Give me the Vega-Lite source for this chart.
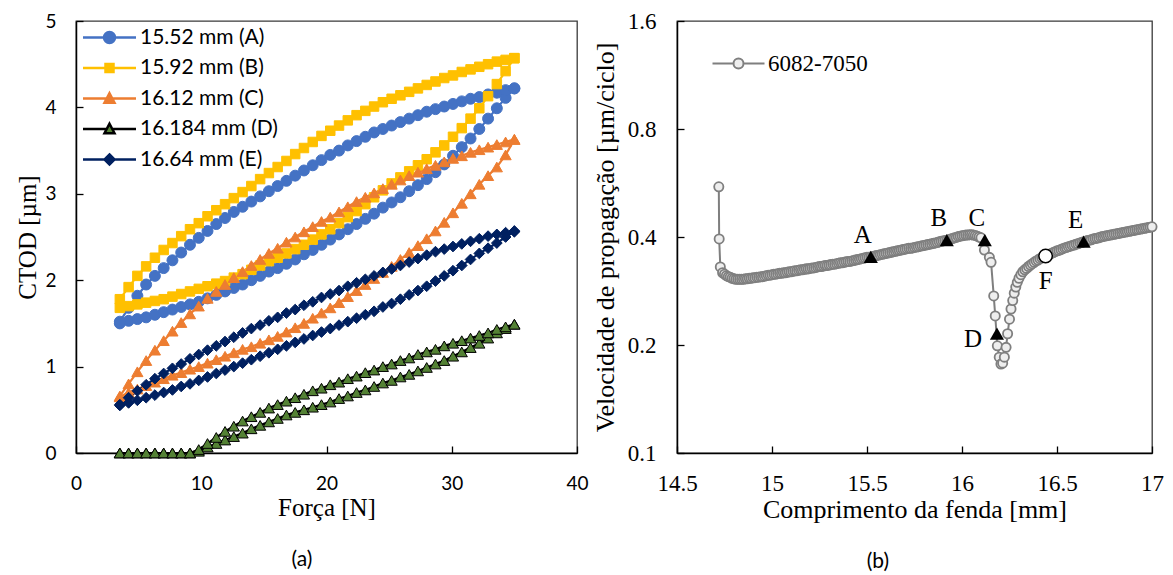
{
  "$schema": "https://vega.github.io/schema/vega-lite/v6.json",
  "background": "white",
  "padding": {"left": 15, "top": 9, "right": 5, "bottom": 0},
  "spacing": 2,
  "config": {
    "view": {"stroke": "#3a3a3a", "strokeWidth": 1.3},
    "axis": {"grid": false, "domainColor": "#000", "domainWidth": 1.5, "tickColor": "#000", "tickWidth": 1.3, "tickSize": -7, "labelColor": "#000", "titleColor": "#000", "titleFontWeight": "normal", "labelFlush": false},
    "legend": {"padding": 0, "titlePadding": 0, "labelFont": "Liberation Serif", "labelColor": "#000"}
  },
  "resolve": {
    "scale": {"color": "independent", "stroke": "independent", "shape": "independent", "size": "independent"},
    "legend": {"color": "independent", "stroke": "independent", "shape": "independent", "size": "independent"}
  },
  "datasets": {
    "ctod": [
      {"s":"A","b":"L","f":3.5,"c":1.50},{"s":"A","b":"L","f":4.2,"c":1.53},{"s":"A","b":"L","f":4.9,"c":1.55},{"s":"A","b":"L","f":5.6,"c":1.57},{"s":"A","b":"L","f":6.3,"c":1.60},{"s":"A","b":"L","f":7.0,"c":1.63},{"s":"A","b":"L","f":7.7,"c":1.66},{"s":"A","b":"L","f":8.4,"c":1.69},{"s":"A","b":"L","f":9.1,"c":1.72},{"s":"A","b":"L","f":9.8,"c":1.75},{"s":"A","b":"L","f":10.5,"c":1.79},{"s":"A","b":"L","f":11.2,"c":1.83},{"s":"A","b":"L","f":11.9,"c":1.87},{"s":"A","b":"L","f":12.6,"c":1.91},{"s":"A","b":"L","f":13.3,"c":1.95},{"s":"A","b":"L","f":14.0,"c":2.00},{"s":"A","b":"L","f":14.7,"c":2.05},{"s":"A","b":"L","f":15.4,"c":2.10},{"s":"A","b":"L","f":16.1,"c":2.14},{"s":"A","b":"L","f":16.8,"c":2.19},{"s":"A","b":"L","f":17.5,"c":2.24},{"s":"A","b":"L","f":18.2,"c":2.30},{"s":"A","b":"L","f":18.9,"c":2.35},{"s":"A","b":"L","f":19.6,"c":2.41},{"s":"A","b":"L","f":20.3,"c":2.47},{"s":"A","b":"L","f":21.0,"c":2.53},{"s":"A","b":"L","f":21.7,"c":2.59},{"s":"A","b":"L","f":22.4,"c":2.65},{"s":"A","b":"L","f":23.1,"c":2.71},{"s":"A","b":"L","f":23.8,"c":2.77},{"s":"A","b":"L","f":24.5,"c":2.84},{"s":"A","b":"L","f":25.2,"c":2.90},{"s":"A","b":"L","f":25.9,"c":2.96},{"s":"A","b":"L","f":26.6,"c":3.03},{"s":"A","b":"L","f":27.3,"c":3.10},{"s":"A","b":"L","f":28.0,"c":3.17},{"s":"A","b":"L","f":28.7,"c":3.25},{"s":"A","b":"L","f":29.4,"c":3.34},{"s":"A","b":"L","f":30.1,"c":3.44},{"s":"A","b":"L","f":30.8,"c":3.54},{"s":"A","b":"L","f":31.5,"c":3.64},{"s":"A","b":"L","f":32.2,"c":3.75},{"s":"A","b":"L","f":32.9,"c":3.87},{"s":"A","b":"L","f":33.6,"c":3.99},{"s":"A","b":"L","f":34.3,"c":4.11},{"s":"A","b":"L","f":35.0,"c":4.22},
      {"s":"A","b":"U","f":3.5,"c":1.52},{"s":"A","b":"U","f":4.2,"c":1.68},{"s":"A","b":"U","f":4.9,"c":1.82},{"s":"A","b":"U","f":5.6,"c":1.95},{"s":"A","b":"U","f":6.3,"c":2.05},{"s":"A","b":"U","f":7.0,"c":2.14},{"s":"A","b":"U","f":7.7,"c":2.23},{"s":"A","b":"U","f":8.4,"c":2.32},{"s":"A","b":"U","f":9.1,"c":2.41},{"s":"A","b":"U","f":9.8,"c":2.49},{"s":"A","b":"U","f":10.5,"c":2.57},{"s":"A","b":"U","f":11.2,"c":2.65},{"s":"A","b":"U","f":11.9,"c":2.72},{"s":"A","b":"U","f":12.6,"c":2.79},{"s":"A","b":"U","f":13.3,"c":2.85},{"s":"A","b":"U","f":14.0,"c":2.91},{"s":"A","b":"U","f":14.7,"c":2.97},{"s":"A","b":"U","f":15.4,"c":3.03},{"s":"A","b":"U","f":16.1,"c":3.09},{"s":"A","b":"U","f":16.8,"c":3.15},{"s":"A","b":"U","f":17.5,"c":3.21},{"s":"A","b":"U","f":18.2,"c":3.27},{"s":"A","b":"U","f":18.9,"c":3.33},{"s":"A","b":"U","f":19.6,"c":3.39},{"s":"A","b":"U","f":20.3,"c":3.45},{"s":"A","b":"U","f":21.0,"c":3.50},{"s":"A","b":"U","f":21.7,"c":3.56},{"s":"A","b":"U","f":22.4,"c":3.61},{"s":"A","b":"U","f":23.1,"c":3.66},{"s":"A","b":"U","f":23.8,"c":3.71},{"s":"A","b":"U","f":24.5,"c":3.75},{"s":"A","b":"U","f":25.2,"c":3.79},{"s":"A","b":"U","f":25.9,"c":3.83},{"s":"A","b":"U","f":26.6,"c":3.87},{"s":"A","b":"U","f":27.3,"c":3.91},{"s":"A","b":"U","f":28.0,"c":3.95},{"s":"A","b":"U","f":28.7,"c":3.98},{"s":"A","b":"U","f":29.4,"c":4.01},{"s":"A","b":"U","f":30.1,"c":4.04},{"s":"A","b":"U","f":30.8,"c":4.07},{"s":"A","b":"U","f":31.5,"c":4.10},{"s":"A","b":"U","f":32.2,"c":4.12},{"s":"A","b":"U","f":32.9,"c":4.15},{"s":"A","b":"U","f":33.6,"c":4.17},{"s":"A","b":"U","f":34.3,"c":4.20},{"s":"A","b":"U","f":35.0,"c":4.22},
      {"s":"B","b":"L","f":3.5,"c":1.68},{"s":"B","b":"L","f":4.2,"c":1.70},{"s":"B","b":"L","f":4.9,"c":1.72},{"s":"B","b":"L","f":5.6,"c":1.74},{"s":"B","b":"L","f":6.3,"c":1.76},{"s":"B","b":"L","f":7.0,"c":1.78},{"s":"B","b":"L","f":7.7,"c":1.81},{"s":"B","b":"L","f":8.4,"c":1.84},{"s":"B","b":"L","f":9.1,"c":1.87},{"s":"B","b":"L","f":9.8,"c":1.90},{"s":"B","b":"L","f":10.5,"c":1.93},{"s":"B","b":"L","f":11.2,"c":1.96},{"s":"B","b":"L","f":11.9,"c":1.99},{"s":"B","b":"L","f":12.6,"c":2.03},{"s":"B","b":"L","f":13.3,"c":2.07},{"s":"B","b":"L","f":14.0,"c":2.12},{"s":"B","b":"L","f":14.7,"c":2.17},{"s":"B","b":"L","f":15.4,"c":2.22},{"s":"B","b":"L","f":16.1,"c":2.26},{"s":"B","b":"L","f":16.8,"c":2.31},{"s":"B","b":"L","f":17.5,"c":2.36},{"s":"B","b":"L","f":18.2,"c":2.41},{"s":"B","b":"L","f":18.9,"c":2.47},{"s":"B","b":"L","f":19.6,"c":2.53},{"s":"B","b":"L","f":20.3,"c":2.59},{"s":"B","b":"L","f":21.0,"c":2.66},{"s":"B","b":"L","f":21.7,"c":2.73},{"s":"B","b":"L","f":22.4,"c":2.80},{"s":"B","b":"L","f":23.1,"c":2.88},{"s":"B","b":"L","f":23.8,"c":2.96},{"s":"B","b":"L","f":24.5,"c":3.04},{"s":"B","b":"L","f":25.2,"c":3.12},{"s":"B","b":"L","f":25.9,"c":3.19},{"s":"B","b":"L","f":26.6,"c":3.26},{"s":"B","b":"L","f":27.3,"c":3.33},{"s":"B","b":"L","f":28.0,"c":3.40},{"s":"B","b":"L","f":28.7,"c":3.48},{"s":"B","b":"L","f":29.4,"c":3.56},{"s":"B","b":"L","f":30.1,"c":3.66},{"s":"B","b":"L","f":30.8,"c":3.76},{"s":"B","b":"L","f":31.5,"c":3.87},{"s":"B","b":"L","f":32.2,"c":3.99},{"s":"B","b":"L","f":32.9,"c":4.13},{"s":"B","b":"L","f":33.6,"c":4.27},{"s":"B","b":"L","f":34.3,"c":4.42},{"s":"B","b":"L","f":35.0,"c":4.57},
      {"s":"B","b":"U","f":3.5,"c":1.78},{"s":"B","b":"U","f":4.2,"c":1.92},{"s":"B","b":"U","f":4.9,"c":2.05},{"s":"B","b":"U","f":5.6,"c":2.16},{"s":"B","b":"U","f":6.3,"c":2.26},{"s":"B","b":"U","f":7.0,"c":2.35},{"s":"B","b":"U","f":7.7,"c":2.43},{"s":"B","b":"U","f":8.4,"c":2.51},{"s":"B","b":"U","f":9.1,"c":2.59},{"s":"B","b":"U","f":9.8,"c":2.66},{"s":"B","b":"U","f":10.5,"c":2.74},{"s":"B","b":"U","f":11.2,"c":2.81},{"s":"B","b":"U","f":11.9,"c":2.88},{"s":"B","b":"U","f":12.6,"c":2.95},{"s":"B","b":"U","f":13.3,"c":3.02},{"s":"B","b":"U","f":14.0,"c":3.09},{"s":"B","b":"U","f":14.7,"c":3.17},{"s":"B","b":"U","f":15.4,"c":3.24},{"s":"B","b":"U","f":16.1,"c":3.31},{"s":"B","b":"U","f":16.8,"c":3.38},{"s":"B","b":"U","f":17.5,"c":3.46},{"s":"B","b":"U","f":18.2,"c":3.53},{"s":"B","b":"U","f":18.9,"c":3.60},{"s":"B","b":"U","f":19.6,"c":3.67},{"s":"B","b":"U","f":20.3,"c":3.73},{"s":"B","b":"U","f":21.0,"c":3.79},{"s":"B","b":"U","f":21.7,"c":3.85},{"s":"B","b":"U","f":22.4,"c":3.91},{"s":"B","b":"U","f":23.1,"c":3.96},{"s":"B","b":"U","f":23.8,"c":4.01},{"s":"B","b":"U","f":24.5,"c":4.06},{"s":"B","b":"U","f":25.2,"c":4.10},{"s":"B","b":"U","f":25.9,"c":4.14},{"s":"B","b":"U","f":26.6,"c":4.18},{"s":"B","b":"U","f":27.3,"c":4.22},{"s":"B","b":"U","f":28.0,"c":4.26},{"s":"B","b":"U","f":28.7,"c":4.30},{"s":"B","b":"U","f":29.4,"c":4.34},{"s":"B","b":"U","f":30.1,"c":4.37},{"s":"B","b":"U","f":30.8,"c":4.41},{"s":"B","b":"U","f":31.5,"c":4.44},{"s":"B","b":"U","f":32.2,"c":4.47},{"s":"B","b":"U","f":32.9,"c":4.50},{"s":"B","b":"U","f":33.6,"c":4.53},{"s":"B","b":"U","f":34.3,"c":4.55},{"s":"B","b":"U","f":35.0,"c":4.57},
      {"s":"C","b":"L","f":3.5,"c":0.65},{"s":"C","b":"L","f":4.2,"c":0.70},{"s":"C","b":"L","f":4.9,"c":0.74},{"s":"C","b":"L","f":5.6,"c":0.78},{"s":"C","b":"L","f":6.3,"c":0.82},{"s":"C","b":"L","f":7.0,"c":0.86},{"s":"C","b":"L","f":7.7,"c":0.90},{"s":"C","b":"L","f":8.4,"c":0.93},{"s":"C","b":"L","f":9.1,"c":0.97},{"s":"C","b":"L","f":9.8,"c":1.00},{"s":"C","b":"L","f":10.5,"c":1.04},{"s":"C","b":"L","f":11.2,"c":1.08},{"s":"C","b":"L","f":11.9,"c":1.12},{"s":"C","b":"L","f":12.6,"c":1.16},{"s":"C","b":"L","f":13.3,"c":1.20},{"s":"C","b":"L","f":14.0,"c":1.23},{"s":"C","b":"L","f":14.7,"c":1.27},{"s":"C","b":"L","f":15.4,"c":1.31},{"s":"C","b":"L","f":16.1,"c":1.35},{"s":"C","b":"L","f":16.8,"c":1.40},{"s":"C","b":"L","f":17.5,"c":1.45},{"s":"C","b":"L","f":18.2,"c":1.50},{"s":"C","b":"L","f":18.9,"c":1.56},{"s":"C","b":"L","f":19.6,"c":1.62},{"s":"C","b":"L","f":20.3,"c":1.68},{"s":"C","b":"L","f":21.0,"c":1.74},{"s":"C","b":"L","f":21.7,"c":1.81},{"s":"C","b":"L","f":22.4,"c":1.88},{"s":"C","b":"L","f":23.1,"c":1.95},{"s":"C","b":"L","f":23.8,"c":2.02},{"s":"C","b":"L","f":24.5,"c":2.09},{"s":"C","b":"L","f":25.2,"c":2.16},{"s":"C","b":"L","f":25.9,"c":2.24},{"s":"C","b":"L","f":26.6,"c":2.32},{"s":"C","b":"L","f":27.3,"c":2.40},{"s":"C","b":"L","f":28.0,"c":2.48},{"s":"C","b":"L","f":28.7,"c":2.57},{"s":"C","b":"L","f":29.4,"c":2.67},{"s":"C","b":"L","f":30.1,"c":2.78},{"s":"C","b":"L","f":30.8,"c":2.89},{"s":"C","b":"L","f":31.5,"c":3.00},{"s":"C","b":"L","f":32.2,"c":3.11},{"s":"C","b":"L","f":32.9,"c":3.21},{"s":"C","b":"L","f":33.6,"c":3.31},{"s":"C","b":"L","f":34.3,"c":3.45},{"s":"C","b":"L","f":35.0,"c":3.63},
      {"s":"C","b":"U","f":3.5,"c":0.66},{"s":"C","b":"U","f":4.2,"c":0.80},{"s":"C","b":"U","f":4.9,"c":0.94},{"s":"C","b":"U","f":5.6,"c":1.07},{"s":"C","b":"U","f":6.3,"c":1.19},{"s":"C","b":"U","f":7.0,"c":1.30},{"s":"C","b":"U","f":7.7,"c":1.41},{"s":"C","b":"U","f":8.4,"c":1.51},{"s":"C","b":"U","f":9.1,"c":1.61},{"s":"C","b":"U","f":9.8,"c":1.70},{"s":"C","b":"U","f":10.5,"c":1.79},{"s":"C","b":"U","f":11.2,"c":1.87},{"s":"C","b":"U","f":11.9,"c":1.95},{"s":"C","b":"U","f":12.6,"c":2.03},{"s":"C","b":"U","f":13.3,"c":2.10},{"s":"C","b":"U","f":14.0,"c":2.17},{"s":"C","b":"U","f":14.7,"c":2.24},{"s":"C","b":"U","f":15.4,"c":2.31},{"s":"C","b":"U","f":16.1,"c":2.37},{"s":"C","b":"U","f":16.8,"c":2.44},{"s":"C","b":"U","f":17.5,"c":2.50},{"s":"C","b":"U","f":18.2,"c":2.56},{"s":"C","b":"U","f":18.9,"c":2.62},{"s":"C","b":"U","f":19.6,"c":2.68},{"s":"C","b":"U","f":20.3,"c":2.73},{"s":"C","b":"U","f":21.0,"c":2.79},{"s":"C","b":"U","f":21.7,"c":2.85},{"s":"C","b":"U","f":22.4,"c":2.91},{"s":"C","b":"U","f":23.1,"c":2.96},{"s":"C","b":"U","f":23.8,"c":3.01},{"s":"C","b":"U","f":24.5,"c":3.06},{"s":"C","b":"U","f":25.2,"c":3.11},{"s":"C","b":"U","f":25.9,"c":3.16},{"s":"C","b":"U","f":26.6,"c":3.21},{"s":"C","b":"U","f":27.3,"c":3.25},{"s":"C","b":"U","f":28.0,"c":3.29},{"s":"C","b":"U","f":28.7,"c":3.33},{"s":"C","b":"U","f":29.4,"c":3.37},{"s":"C","b":"U","f":30.1,"c":3.41},{"s":"C","b":"U","f":30.8,"c":3.44},{"s":"C","b":"U","f":31.5,"c":3.48},{"s":"C","b":"U","f":32.2,"c":3.51},{"s":"C","b":"U","f":32.9,"c":3.54},{"s":"C","b":"U","f":33.6,"c":3.57},{"s":"C","b":"U","f":34.3,"c":3.60},{"s":"C","b":"U","f":35.0,"c":3.63},
      {"s":"D","b":"L","f":3.5,"c":0},{"s":"D","b":"L","f":4.2,"c":0},{"s":"D","b":"L","f":4.9,"c":0},{"s":"D","b":"L","f":5.6,"c":0},{"s":"D","b":"L","f":6.3,"c":0},{"s":"D","b":"L","f":7.0,"c":0},{"s":"D","b":"L","f":7.7,"c":0},{"s":"D","b":"L","f":8.4,"c":0},{"s":"D","b":"L","f":9.1,"c":0},{"s":"D","b":"L","f":9.8,"c":0.02},{"s":"D","b":"L","f":10.5,"c":0.07},{"s":"D","b":"L","f":11.2,"c":0.11},{"s":"D","b":"L","f":11.9,"c":0.15},{"s":"D","b":"L","f":12.6,"c":0.19},{"s":"D","b":"L","f":13.3,"c":0.23},{"s":"D","b":"L","f":14.0,"c":0.28},{"s":"D","b":"L","f":14.7,"c":0.32},{"s":"D","b":"L","f":15.4,"c":0.36},{"s":"D","b":"L","f":16.1,"c":0.40},{"s":"D","b":"L","f":16.8,"c":0.44},{"s":"D","b":"L","f":17.5,"c":0.47},{"s":"D","b":"L","f":18.2,"c":0.50},{"s":"D","b":"L","f":18.9,"c":0.53},{"s":"D","b":"L","f":19.6,"c":0.56},{"s":"D","b":"L","f":20.3,"c":0.59},{"s":"D","b":"L","f":21.0,"c":0.63},{"s":"D","b":"L","f":21.7,"c":0.66},{"s":"D","b":"L","f":22.4,"c":0.70},{"s":"D","b":"L","f":23.1,"c":0.73},{"s":"D","b":"L","f":23.8,"c":0.77},{"s":"D","b":"L","f":24.5,"c":0.81},{"s":"D","b":"L","f":25.2,"c":0.84},{"s":"D","b":"L","f":25.9,"c":0.88},{"s":"D","b":"L","f":26.6,"c":0.91},{"s":"D","b":"L","f":27.3,"c":0.95},{"s":"D","b":"L","f":28.0,"c":0.99},{"s":"D","b":"L","f":28.7,"c":1.03},{"s":"D","b":"L","f":29.4,"c":1.07},{"s":"D","b":"L","f":30.1,"c":1.12},{"s":"D","b":"L","f":30.8,"c":1.17},{"s":"D","b":"L","f":31.5,"c":1.22},{"s":"D","b":"L","f":32.2,"c":1.27},{"s":"D","b":"L","f":32.9,"c":1.33},{"s":"D","b":"L","f":33.6,"c":1.39},{"s":"D","b":"L","f":34.3,"c":1.44},{"s":"D","b":"L","f":35.0,"c":1.49},
      {"s":"D","b":"U","f":3.5,"c":0},{"s":"D","b":"U","f":4.2,"c":0},{"s":"D","b":"U","f":4.9,"c":0},{"s":"D","b":"U","f":5.6,"c":0},{"s":"D","b":"U","f":6.3,"c":0},{"s":"D","b":"U","f":7.0,"c":0},{"s":"D","b":"U","f":7.7,"c":0},{"s":"D","b":"U","f":8.4,"c":0},{"s":"D","b":"U","f":9.1,"c":0},{"s":"D","b":"U","f":9.8,"c":0.04},{"s":"D","b":"U","f":10.5,"c":0.11},{"s":"D","b":"U","f":11.2,"c":0.18},{"s":"D","b":"U","f":11.9,"c":0.25},{"s":"D","b":"U","f":12.6,"c":0.31},{"s":"D","b":"U","f":13.3,"c":0.37},{"s":"D","b":"U","f":14.0,"c":0.42},{"s":"D","b":"U","f":14.7,"c":0.47},{"s":"D","b":"U","f":15.4,"c":0.52},{"s":"D","b":"U","f":16.1,"c":0.56},{"s":"D","b":"U","f":16.8,"c":0.60},{"s":"D","b":"U","f":17.5,"c":0.64},{"s":"D","b":"U","f":18.2,"c":0.68},{"s":"D","b":"U","f":18.9,"c":0.72},{"s":"D","b":"U","f":19.6,"c":0.75},{"s":"D","b":"U","f":20.3,"c":0.79},{"s":"D","b":"U","f":21.0,"c":0.82},{"s":"D","b":"U","f":21.7,"c":0.86},{"s":"D","b":"U","f":22.4,"c":0.89},{"s":"D","b":"U","f":23.1,"c":0.93},{"s":"D","b":"U","f":23.8,"c":0.96},{"s":"D","b":"U","f":24.5,"c":1.00},{"s":"D","b":"U","f":25.2,"c":1.03},{"s":"D","b":"U","f":25.9,"c":1.07},{"s":"D","b":"U","f":26.6,"c":1.10},{"s":"D","b":"U","f":27.3,"c":1.14},{"s":"D","b":"U","f":28.0,"c":1.17},{"s":"D","b":"U","f":28.7,"c":1.20},{"s":"D","b":"U","f":29.4,"c":1.24},{"s":"D","b":"U","f":30.1,"c":1.27},{"s":"D","b":"U","f":30.8,"c":1.30},{"s":"D","b":"U","f":31.5,"c":1.33},{"s":"D","b":"U","f":32.2,"c":1.36},{"s":"D","b":"U","f":32.9,"c":1.39},{"s":"D","b":"U","f":33.6,"c":1.43},{"s":"D","b":"U","f":34.3,"c":1.46},{"s":"D","b":"U","f":35.0,"c":1.49},
      {"s":"E","b":"L","f":3.5,"c":0.55},{"s":"E","b":"L","f":4.2,"c":0.58},{"s":"E","b":"L","f":4.9,"c":0.61},{"s":"E","b":"L","f":5.6,"c":0.64},{"s":"E","b":"L","f":6.3,"c":0.67},{"s":"E","b":"L","f":7.0,"c":0.70},{"s":"E","b":"L","f":7.7,"c":0.73},{"s":"E","b":"L","f":8.4,"c":0.77},{"s":"E","b":"L","f":9.1,"c":0.80},{"s":"E","b":"L","f":9.8,"c":0.84},{"s":"E","b":"L","f":10.5,"c":0.88},{"s":"E","b":"L","f":11.2,"c":0.92},{"s":"E","b":"L","f":11.9,"c":0.96},{"s":"E","b":"L","f":12.6,"c":1.00},{"s":"E","b":"L","f":13.3,"c":1.04},{"s":"E","b":"L","f":14.0,"c":1.08},{"s":"E","b":"L","f":14.7,"c":1.12},{"s":"E","b":"L","f":15.4,"c":1.16},{"s":"E","b":"L","f":16.1,"c":1.20},{"s":"E","b":"L","f":16.8,"c":1.24},{"s":"E","b":"L","f":17.5,"c":1.28},{"s":"E","b":"L","f":18.2,"c":1.32},{"s":"E","b":"L","f":18.9,"c":1.36},{"s":"E","b":"L","f":19.6,"c":1.40},{"s":"E","b":"L","f":20.3,"c":1.44},{"s":"E","b":"L","f":21.0,"c":1.48},{"s":"E","b":"L","f":21.7,"c":1.52},{"s":"E","b":"L","f":22.4,"c":1.56},{"s":"E","b":"L","f":23.1,"c":1.60},{"s":"E","b":"L","f":23.8,"c":1.64},{"s":"E","b":"L","f":24.5,"c":1.69},{"s":"E","b":"L","f":25.2,"c":1.73},{"s":"E","b":"L","f":25.9,"c":1.78},{"s":"E","b":"L","f":26.6,"c":1.83},{"s":"E","b":"L","f":27.3,"c":1.88},{"s":"E","b":"L","f":28.0,"c":1.93},{"s":"E","b":"L","f":28.7,"c":1.99},{"s":"E","b":"L","f":29.4,"c":2.05},{"s":"E","b":"L","f":30.1,"c":2.11},{"s":"E","b":"L","f":30.8,"c":2.17},{"s":"E","b":"L","f":31.5,"c":2.24},{"s":"E","b":"L","f":32.2,"c":2.31},{"s":"E","b":"L","f":32.9,"c":2.37},{"s":"E","b":"L","f":33.6,"c":2.43},{"s":"E","b":"L","f":34.3,"c":2.50},{"s":"E","b":"L","f":35.0,"c":2.56},
      {"s":"E","b":"U","f":3.5,"c":0.56},{"s":"E","b":"U","f":4.2,"c":0.64},{"s":"E","b":"U","f":4.9,"c":0.72},{"s":"E","b":"U","f":5.6,"c":0.79},{"s":"E","b":"U","f":6.3,"c":0.86},{"s":"E","b":"U","f":7.0,"c":0.92},{"s":"E","b":"U","f":7.7,"c":0.98},{"s":"E","b":"U","f":8.4,"c":1.03},{"s":"E","b":"U","f":9.1,"c":1.09},{"s":"E","b":"U","f":9.8,"c":1.14},{"s":"E","b":"U","f":10.5,"c":1.19},{"s":"E","b":"U","f":11.2,"c":1.24},{"s":"E","b":"U","f":11.9,"c":1.29},{"s":"E","b":"U","f":12.6,"c":1.34},{"s":"E","b":"U","f":13.3,"c":1.39},{"s":"E","b":"U","f":14.0,"c":1.44},{"s":"E","b":"U","f":14.7,"c":1.48},{"s":"E","b":"U","f":15.4,"c":1.53},{"s":"E","b":"U","f":16.1,"c":1.57},{"s":"E","b":"U","f":16.8,"c":1.62},{"s":"E","b":"U","f":17.5,"c":1.66},{"s":"E","b":"U","f":18.2,"c":1.71},{"s":"E","b":"U","f":18.9,"c":1.75},{"s":"E","b":"U","f":19.6,"c":1.80},{"s":"E","b":"U","f":20.3,"c":1.84},{"s":"E","b":"U","f":21.0,"c":1.88},{"s":"E","b":"U","f":21.7,"c":1.93},{"s":"E","b":"U","f":22.4,"c":1.97},{"s":"E","b":"U","f":23.1,"c":2.01},{"s":"E","b":"U","f":23.8,"c":2.05},{"s":"E","b":"U","f":24.5,"c":2.09},{"s":"E","b":"U","f":25.2,"c":2.13},{"s":"E","b":"U","f":25.9,"c":2.17},{"s":"E","b":"U","f":26.6,"c":2.21},{"s":"E","b":"U","f":27.3,"c":2.25},{"s":"E","b":"U","f":28.0,"c":2.29},{"s":"E","b":"U","f":28.7,"c":2.33},{"s":"E","b":"U","f":29.4,"c":2.36},{"s":"E","b":"U","f":30.1,"c":2.39},{"s":"E","b":"U","f":30.8,"c":2.42},{"s":"E","b":"U","f":31.5,"c":2.45},{"s":"E","b":"U","f":32.2,"c":2.48},{"s":"E","b":"U","f":32.9,"c":2.51},{"s":"E","b":"U","f":33.6,"c":2.53},{"s":"E","b":"U","f":34.3,"c":2.55},{"s":"E","b":"U","f":35.0,"c":2.57}
    ],
    "rate": [
      {"x":14.72,"v":0.552},{"x":14.722,"v":0.395},{"x":14.728,"v":0.330},
      {"x":14.74,"v":0.318},{"x":14.75,"v":0.315},{"x":14.76,"v":0.312},{"x":14.77,"v":0.310},{"x":14.78,"v":0.309},{"x":14.79,"v":0.307},{"x":14.80,"v":0.306},
      {"x":14.81,"v":0.305},{"x":14.82,"v":0.305},{"x":14.83,"v":0.305},{"x":14.84,"v":0.305},{"x":14.85,"v":0.305},{"x":14.86,"v":0.306},{"x":14.87,"v":0.306},{"x":14.88,"v":0.307},{"x":14.89,"v":0.307},{"x":14.90,"v":0.308},
      {"x":14.91,"v":0.308},{"x":14.92,"v":0.309},{"x":14.93,"v":0.309},{"x":14.94,"v":0.310},{"x":14.95,"v":0.310},{"x":14.96,"v":0.311},{"x":14.97,"v":0.312},{"x":14.98,"v":0.313},{"x":14.99,"v":0.313},{"x":15.00,"v":0.314},
      {"x":15.01,"v":0.315},{"x":15.02,"v":0.315},{"x":15.03,"v":0.316},{"x":15.04,"v":0.317},{"x":15.05,"v":0.317},{"x":15.06,"v":0.318},{"x":15.07,"v":0.318},{"x":15.08,"v":0.319},{"x":15.09,"v":0.320},{"x":15.10,"v":0.320},
      {"x":15.11,"v":0.321},{"x":15.12,"v":0.322},{"x":15.13,"v":0.322},{"x":15.14,"v":0.323},{"x":15.15,"v":0.324},{"x":15.16,"v":0.324},{"x":15.17,"v":0.325},{"x":15.18,"v":0.326},{"x":15.19,"v":0.326},{"x":15.20,"v":0.327},
      {"x":15.21,"v":0.328},{"x":15.22,"v":0.328},{"x":15.23,"v":0.329},{"x":15.24,"v":0.330},{"x":15.25,"v":0.331},{"x":15.26,"v":0.331},{"x":15.27,"v":0.332},{"x":15.28,"v":0.333},{"x":15.29,"v":0.333},{"x":15.30,"v":0.334},
      {"x":15.31,"v":0.335},{"x":15.32,"v":0.336},{"x":15.33,"v":0.336},{"x":15.34,"v":0.337},{"x":15.35,"v":0.338},{"x":15.36,"v":0.339},{"x":15.37,"v":0.339},{"x":15.38,"v":0.340},{"x":15.39,"v":0.341},{"x":15.40,"v":0.342},
      {"x":15.41,"v":0.342},{"x":15.42,"v":0.343},{"x":15.43,"v":0.344},{"x":15.44,"v":0.345},{"x":15.45,"v":0.346},{"x":15.46,"v":0.347},{"x":15.47,"v":0.348},{"x":15.48,"v":0.349},{"x":15.49,"v":0.350},{"x":15.50,"v":0.351},
      {"x":15.51,"v":0.351},{"x":15.52,"v":0.352},{"x":15.53,"v":0.353},{"x":15.54,"v":0.354},{"x":15.55,"v":0.355},{"x":15.56,"v":0.356},{"x":15.57,"v":0.357},{"x":15.58,"v":0.358},{"x":15.59,"v":0.359},{"x":15.60,"v":0.360},
      {"x":15.61,"v":0.361},{"x":15.62,"v":0.362},{"x":15.63,"v":0.363},{"x":15.64,"v":0.364},{"x":15.65,"v":0.365},{"x":15.66,"v":0.366},{"x":15.67,"v":0.367},{"x":15.68,"v":0.368},{"x":15.69,"v":0.369},{"x":15.70,"v":0.370},
      {"x":15.71,"v":0.371},{"x":15.72,"v":0.372},{"x":15.73,"v":0.372},{"x":15.74,"v":0.373},{"x":15.75,"v":0.374},{"x":15.76,"v":0.375},{"x":15.77,"v":0.376},{"x":15.78,"v":0.377},{"x":15.79,"v":0.378},{"x":15.80,"v":0.379},
      {"x":15.81,"v":0.380},{"x":15.82,"v":0.381},{"x":15.83,"v":0.382},{"x":15.84,"v":0.383},{"x":15.85,"v":0.384},{"x":15.86,"v":0.385},{"x":15.87,"v":0.386},{"x":15.88,"v":0.388},{"x":15.89,"v":0.389},{"x":15.90,"v":0.390},
      {"x":15.91,"v":0.391},{"x":15.92,"v":0.392},{"x":15.93,"v":0.393},{"x":15.94,"v":0.395},{"x":15.95,"v":0.396},{"x":15.96,"v":0.398},{"x":15.97,"v":0.399},{"x":15.98,"v":0.401},{"x":15.99,"v":0.402},{"x":16.00,"v":0.403},
      {"x":16.01,"v":0.404},{"x":16.02,"v":0.405},{"x":16.03,"v":0.405},{"x":16.04,"v":0.406},{"x":16.05,"v":0.406},{"x":16.06,"v":0.405},{"x":16.07,"v":0.404},{"x":16.08,"v":0.402},{"x":16.09,"v":0.400},{"x":16.10,"v":0.398},
      {"x":16.118,"v":0.368},{"x":16.144,"v":0.351},{"x":16.153,"v":0.340},{"x":16.167,"v":0.274},{"x":16.175,"v":0.241},{"x":16.186,"v":0.199},{"x":16.196,"v":0.185},{"x":16.205,"v":0.177},{"x":16.214,"v":0.178},{"x":16.223,"v":0.185},{"x":16.232,"v":0.197},{"x":16.24,"v":0.215},{"x":16.25,"v":0.236},{"x":16.258,"v":0.252},{"x":16.267,"v":0.266},{"x":16.275,"v":0.279},{"x":16.283,"v":0.290},{"x":16.291,"v":0.299},{"x":16.30,"v":0.307},
      {"x":16.31,"v":0.314},{"x":16.32,"v":0.320},{"x":16.33,"v":0.324},{"x":16.34,"v":0.327},{"x":16.35,"v":0.331},{"x":16.36,"v":0.334},{"x":16.37,"v":0.337},{"x":16.38,"v":0.340},{"x":16.39,"v":0.343},{"x":16.40,"v":0.345},
      {"x":16.41,"v":0.348},{"x":16.42,"v":0.350},{"x":16.43,"v":0.352},{"x":16.44,"v":0.354},{"x":16.45,"v":0.356},{"x":16.46,"v":0.358},{"x":16.47,"v":0.360},{"x":16.48,"v":0.362},{"x":16.49,"v":0.364},{"x":16.50,"v":0.366},
      {"x":16.51,"v":0.367},{"x":16.52,"v":0.369},{"x":16.53,"v":0.371},{"x":16.54,"v":0.373},{"x":16.55,"v":0.374},{"x":16.56,"v":0.376},{"x":16.57,"v":0.377},{"x":16.58,"v":0.379},{"x":16.59,"v":0.380},{"x":16.60,"v":0.382},
      {"x":16.61,"v":0.383},{"x":16.62,"v":0.385},{"x":16.63,"v":0.386},{"x":16.64,"v":0.388},{"x":16.65,"v":0.389},{"x":16.66,"v":0.391},{"x":16.67,"v":0.392},{"x":16.68,"v":0.393},{"x":16.69,"v":0.395},{"x":16.70,"v":0.396},
      {"x":16.71,"v":0.397},{"x":16.72,"v":0.398},{"x":16.73,"v":0.400},{"x":16.74,"v":0.401},{"x":16.75,"v":0.402},{"x":16.76,"v":0.403},{"x":16.77,"v":0.404},{"x":16.78,"v":0.405},{"x":16.79,"v":0.406},{"x":16.80,"v":0.407},
      {"x":16.81,"v":0.408},{"x":16.82,"v":0.409},{"x":16.83,"v":0.410},{"x":16.84,"v":0.411},{"x":16.85,"v":0.412},{"x":16.86,"v":0.413},{"x":16.87,"v":0.414},{"x":16.88,"v":0.415},{"x":16.89,"v":0.416},{"x":16.90,"v":0.417},
      {"x":16.91,"v":0.418},{"x":16.92,"v":0.419},{"x":16.93,"v":0.420},{"x":16.94,"v":0.421},{"x":16.95,"v":0.422},{"x":16.96,"v":0.423},{"x":16.97,"v":0.424},{"x":16.98,"v":0.425},{"x":16.99,"v":0.426},{"x":17.00,"v":0.427}
    ],
    "marks": [
      {"k":"A","x":15.52,"v":0.352},
      {"k":"B","x":15.92,"v":0.392},
      {"k":"C","x":16.12,"v":0.392},
      {"k":"D","x":16.184,"v":0.215},
      {"k":"E","x":16.64,"v":0.388},
      {"k":"F","x":16.44,"v":0.354}
    ]
  },
  "hconcat": [
    {
      "width": 501,
      "height": 432,
      "title": {"text": "(a)", "orient": "bottom", "frame": "bounds", "anchor": "middle", "font": "Lato", "fontSize": 21, "fontWeight": "normal", "color": "#000", "offset": 29},
      "data": {"name": "ctod"},
      "encoding": {
        "x": {"field": "f", "type": "quantitative", "scale": {"domain": [0, 40], "nice": false},
              "axis": {"values": [0, 10, 20, 30, 40], "title": "Força [N]", "titleFont": "Liberation Serif", "titleFontSize": 25, "titlePadding": 2, "labelFont": "Lato", "labelFontSize": 19, "labelPadding": 28}},
        "y": {"field": "c", "type": "quantitative", "scale": {"domain": [0, 5], "nice": false},
              "axis": {"values": [0, 1, 2, 3, 4, 5], "title": "CTOD [µm]", "titleFont": "Liberation Serif", "titleFontSize": 25, "titlePadding": 4, "labelFont": "Lato", "labelFontSize": 19, "labelPadding": 27}},
        "color": {"field": "s", "type": "nominal", "scale": {"domain": ["A", "B", "C", "D", "E"], "range": ["#4472C4", "#FFC000", "#ED7D31", "#548235", "#002060"]}},
        "stroke": {"field": "s", "type": "nominal", "scale": {"domain": ["A", "B", "C", "D", "E"], "range": ["#4472C4", "#FFC000", "#ED7D31", "#000000", "#002060"]}}
      },
      "layer": [
        {
          "transform": [{"filter": "datum.f < 0"}],
          "mark": {"type": "point", "filled": true, "opacity": 1, "strokeWidth": 2.5, "size": 100},
          "encoding": {
            "shape": {"field": "s", "type": "nominal",
              "scale": {"domain": ["A", "B", "C", "D", "E"], "range": [
                "M-5.3,0H-1.1M1.1,0H5.3M-1.1,0A1.1,1.1,0,1,1,1.1,0A1.1,1.1,0,1,1,-1.1,0Z",
                "M-5.3,0H-0.8M0.8,0H5.3M-0.8,-0.8H0.8V0.8H-0.8Z",
                "M-5.3,0H-0.55M0.55,0H5.3M0,-1.05L1,0.85H-1Z",
                "M-5.3,0H-0.55M0.55,0H5.3M0,-1.05L1,0.85H-1Z",
                "M-5.3,0H-1M1,0H5.3M0,-1L1,0L0,1L-1,0Z"]},
              "legend": {
                "orient": "none", "legendX": 23, "legendY": 6, "title": null,
                "labelExpr": "datum.label === 'A' ? '15.52 mm (A)' : datum.label === 'B' ? '15.92 mm (B)' : datum.label === 'C' ? '16.12 mm (C)' : datum.label === 'D' ? '16.184 mm (D)' : '16.64 mm (E)'",
                "labelFont": "Lato", "labelFontSize": 21, "labelColor": "#000", "labelOffset": 20,
                "symbolSize": 100, "symbolStrokeWidth": 2.5, "symbolOpacity": 1, "rowPadding": 8.5
              }}
          }
        },
        {
          "mark": {"type": "line", "strokeWidth": 2.2},
          "encoding": {"color": null, "detail": {"field": "b"}}
        },
        {
          "transform": [{"filter": "datum.s === 'A'"}],
          "mark": {"type": "point", "shape": "circle", "filled": true, "opacity": 1, "strokeWidth": 1, "size": 120}
        },
        {
          "transform": [{"filter": "datum.s === 'B'"}],
          "mark": {"type": "point", "shape": "square", "filled": true, "opacity": 1, "strokeWidth": 1, "size": 90}
        },
        {
          "transform": [{"filter": "datum.s === 'C' || datum.s === 'D'"}],
          "mark": {"type": "point", "shape": "triangle-up", "filled": true, "opacity": 1, "strokeWidth": 1, "size": 125}
        },
        {
          "transform": [{"filter": "datum.s === 'E'"}],
          "mark": {"type": "point", "shape": "diamond", "filled": true, "opacity": 1, "strokeWidth": 1, "size": 115}
        }
      ]
    },
    {
      "width": 475,
      "height": 432,
      "title": {"text": "(b)", "orient": "bottom", "frame": "bounds", "anchor": "middle", "font": "Lato", "fontSize": 21, "fontWeight": "normal", "color": "#000", "offset": 29},
      "encoding": {
        "x": {"field": "x", "type": "quantitative", "scale": {"domain": [14.5, 17], "nice": false, "zero": false},
              "axis": {"values": [14.5, 15, 15.5, 16, 16.5, 17], "format": "~g", "title": "Comprimento da fenda [mm]", "titleFont": "Liberation Serif", "titleFontSize": 26, "titlePadding": 1, "labelFont": "Liberation Serif", "labelFontSize": 23, "labelPadding": 26}},
        "y": {"field": "v", "type": "quantitative", "scale": {"type": "log", "base": 2, "domain": [0.1, 1.6], "nice": false},
              "axis": {"values": [0.1, 0.2, 0.4, 0.8, 1.6], "format": "~g", "title": "Velocidade de propagação [µm/ciclo]", "titleFont": "Liberation Serif", "titleFontSize": 26, "titlePadding": 9, "labelFont": "Liberation Serif", "labelFontSize": 23, "labelPadding": 28}}
      },
      "layer": [
        {
          "data": {"name": "rate"},
          "mark": {"type": "line", "color": "#7f7f7f", "strokeWidth": 2},
          "encoding": {}
        },
        {
          "data": {"name": "rate"},
          "mark": {"type": "point", "shape": "circle", "filled": false, "fill": "#eeeeee", "strokeWidth": 1.8, "size": 85, "opacity": 1},
          "encoding": {
            "color": {"datum": "6082-7050", "type": "nominal", "scale": {"range": ["#7f7f7f"]},
              "legend": {
                "orient": "none", "legendX": 50, "legendY": 31, "title": null,
                "labelFont": "Liberation Serif", "labelFontSize": 23, "labelColor": "#000", "labelOffset": 18,
                "symbolType": "M-5.2,0H-1M1,0H5.2M-1,0A1,1,0,1,1,1,0A1,1,0,1,1,-1,0Z",
                "symbolSize": 100, "symbolFillColor": "#eeeeee", "symbolStrokeColor": "#7f7f7f", "symbolStrokeWidth": 2, "symbolOpacity": 1
              }}
          }
        },
        {
          "mark": {"type": "rule", "color": "#000", "strokeWidth": 1.5, "strokeDash": [4, 3]},
          "encoding": {"x": {"datum": 16.15}, "y": null}
        },
        {
          "data": {"name": "marks"},
          "transform": [{"filter": "datum.k !== 'F'"}],
          "mark": {"type": "point", "shape": "triangle-up", "filled": true, "color": "#000", "size": 200, "opacity": 1}
        },
        {
          "data": {"name": "marks"},
          "transform": [{"filter": "datum.k === 'F'"}],
          "mark": {"type": "point", "shape": "circle", "filled": false, "fill": "#ffffff", "stroke": "#000", "strokeWidth": 1.5, "size": 180, "opacity": 1}
        },
        {
          "data": {"name": "marks"},
          "transform": [{"filter": "indexof(['A','B','C','E'], datum.k) >= 0"}],
          "mark": {"type": "text", "font": "Liberation Serif", "fontSize": 25, "color": "#000", "baseline": "middle", "dx": -8, "dy": -22},
          "encoding": {"text": {"field": "k"}}
        },
        {
          "data": {"name": "marks"},
          "transform": [{"filter": "datum.k === 'D'"}],
          "mark": {"type": "text", "font": "Liberation Serif", "fontSize": 25, "color": "#000", "baseline": "middle", "dx": -24, "dy": 5},
          "encoding": {"text": {"field": "k"}}
        },
        {
          "data": {"name": "marks"},
          "transform": [{"filter": "datum.k === 'F'"}],
          "mark": {"type": "text", "font": "Liberation Serif", "fontSize": 25, "color": "#000", "baseline": "middle", "dx": 0, "dy": 25},
          "encoding": {"text": {"field": "k"}}
        }
      ]
    }
  ]
}
